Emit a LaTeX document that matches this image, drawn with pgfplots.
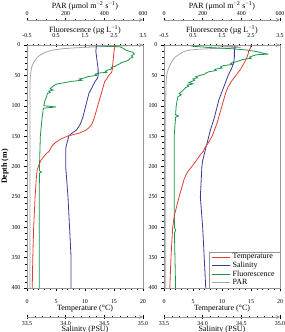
\documentclass[border=0pt]{standalone}
\usepackage{pgfplots}
\pgfplotsset{compat=1.18}
\usepackage{fontspec}
\setmainfont{Liberation Serif}

\definecolor{tempred}{RGB}{224,62,52}
\definecolor{salblue}{RGB}{58,58,150}
\definecolor{fluogreen}{RGB}{22,150,72}
\definecolor{pargray}{RGB}{165,165,165}
\definecolor{framegray}{RGB}{150,150,150}

\newcommand{\titlefont}{\fontsize{8}{9}\selectfont}

\pgfplotsset{
  common/.style={
    scale only axis, width=116bp, anchor=south west,
    /pgf/number format/assume math mode=true,
    tick label style={font=\fontsize{6}{7}\selectfont},
    major tick length=3bp, minor tick length=1.6bp,
    tick style={black, line width=0.35pt},
    axis line style={-, draw=framegray, line width=0.8pt},
    tick align=outside,
  },
  panel/.style={common, height=243bp, ymin=0, ymax=400, y dir=reverse},
  layer/.style={panel, hide axis},
  scalebar/.style={common, height=1bp, ymin=0, ymax=1, hide y axis, tick align=center},
  onedec/.style={xticklabel style={/pgf/number format/fixed, /pgf/number format/fixed zerofill, /pgf/number format/precision=1}},
  toptitle/.style={xlabel style={at={(axis description cs:0.5,1)}, anchor=center, yshift=#1, font=\titlefont}},
  bottitle/.style={xlabel style={at={(axis description cs:0.5,0)}, anchor=center, yshift=#1, font=\titlefont}},
  temp/.style={draw=tempred, line width=0.8pt},
  sal/.style={draw=salblue, line width=0.8pt},
  fluo/.style={draw=fluogreen, line width=0.8pt},
  par/.style={draw=pargray, line width=0.8pt},
}

\begin{document}
\begin{tikzpicture}

% =================== left cast ===================
% PAR
\begin{axis}[layer, at={(27bp,44bp)}, xmin=0, xmax=600]
\addplot[par] coordinates {(600,0) (560,1) (450,2) (360,3) (290,4) (230,5) (190,6) (140,8) (115,10) (95,12) (82,14) (65,17) (54,20) (42,25) (32,30) (26,35) (22,40) (18,50) (16,60) (15,80) (15,400)};
\end{axis}
% Fluorescence (top axis)
\begin{axis}[panel, at={(27bp,44bp)}, xmin=-0.5, xmax=3.5, axis x line=top, hide y axis,
  xtick={-0.5,0.5,1.5,2.5,3.5}, minor x tick num=4, onedec,
  xticklabel style={anchor=center, yshift=7.5bp},
  xlabel={Fluorescence (µg L\textsuperscript{−1})}, toptitle=15.5bp]
\addplot[fluo] coordinates {(1.0,0) (1.6,1) (2.3,2) (2.7,3) (2.8,5) (2.9,8) (3.0,10) (3.15,12) (3.2,15) (3.1,18) (3.15,20) (3.05,22) (3.0,25) (2.9,27) (2.75,29) (2.7,31) (2.6,33) (2.55,35) (2.4,37) (2.45,39) (2.3,41) (2.2,43) (2.25,45) (2.0,46) (1.85,48) (1.9,50) (1.6,52) (1.5,54) (1.3,56) (1.4,58) (1.0,60) (0.8,62) (0.55,64) (0.45,66) (0.4,68) (0.35,70) (0.3,72) (0.4,74) (0.25,76) (0.3,78) (0.2,80) (0.18,85) (0.13,90) (0.1,95) (0.08,100) (0.5,102) (0.06,104) (0.05,110) (0.02,120) (0.0,130) (-0.04,150) (-0.07,200) (-0.07,207) (0.0,209) (-0.07,211) (-0.08,250) (-0.08,300) (-0.08,400)};
\end{axis}
% Salinity
\begin{axis}[layer, at={(27bp,44bp)}, xmin=33.5, xmax=35]
\addplot[sal] coordinates {(34.40,0) (34.39,10) (34.40,20) (34.41,30) (34.42,40) (34.42,50) (34.41,55) (34.38,60) (34.34,70) (34.30,80) (34.28,90) (34.26,100) (34.24,110) (34.22,120) (34.19,130) (34.14,140) (34.08,145) (34.04,150) (34.02,160) (34.00,170) (34.00,200) (34.03,250) (34.05,300) (34.07,350) (34.07,400)};
\end{axis}
% Temperature (main frame)
\begin{axis}[panel, at={(27bp,44bp)}, xmin=0, xmax=20,
  xtick={0,5,10,15,20}, minor x tick num=4, xtick pos=left,
  ytick={0,50,...,400}, minor y tick num=4, ytick pos=left,
  xticklabel style={anchor=center, yshift=-11bp},
  xlabel={Temperature (°C)}, bottitle=-20.5bp,
  ylabel={Depth (m)},
  every axis y label/.style={at={(axis description cs:0,0.5)}, anchor=center, xshift=-22bp, rotate=90, font=\titlefont\bfseries}]
\addplot[temp] coordinates {(15.2,0) (15.1,5) (15.0,10) (14.9,20) (14.8,30) (14.7,40) (14.6,45) (14.1,50) (13.8,55) (13.4,60) (13.1,70) (12.8,80) (12.5,90) (12.2,100) (11.9,110) (11.6,120) (11.2,130) (10.8,135) (10.2,140) (9.0,145) (7.0,150) (5.8,155) (5.0,160) (4.4,165) (4.1,170) (3.8,175) (3.2,180) (2.8,185) (2.4,190) (2.1,196) (1.75,206) (1.6,220) (1.4,250) (1.15,300) (1.0,350) (0.9,400)};
\end{axis}
% separate salinity and PAR scales
\begin{axis}[scalebar, at={(27bp,15bp)}, xmin=33.5, xmax=35, axis x line=bottom,
  xtick={33.5,34,34.5,35}, minor x tick num=4, onedec,
  xticklabel style={anchor=center, yshift=-5bp},
  xlabel={Salinity (PSU)}, bottitle=-13bp]
\end{axis}
\begin{axis}[scalebar, at={(27bp,311bp)}, xmin=0, xmax=600, axis x line=top,
  xtick={0,200,400,600}, minor x tick num=3,
  xticklabel style={anchor=center, yshift=5bp},
  xlabel={PAR (µmol m\textsuperscript{−2} s\textsuperscript{−1})}, toptitle=14bp]
\end{axis}

% =================== right cast ===================
\begin{axis}[layer, at={(164bp,44bp)}, xmin=0, xmax=600]
\addplot[par] coordinates {(110,0) (200,1) (300,2) (380,3) (390,4) (330,5) (240,6) (180,7) (140,8) (110,10) (95,12) (85,14) (70,17) (58,20) (45,25) (36,30) (28,35) (22,40) (17,45) (14,50) (11,60) (10,70) (9,100) (9,400)};
\end{axis}
\begin{axis}[panel, at={(164bp,44bp)}, xmin=-0.5, xmax=3.5, axis x line=top, hide y axis,
  xtick={-0.5,0.5,1.5,2.5,3.5}, minor x tick num=4, onedec,
  xticklabel style={anchor=center, yshift=7.5bp},
  xlabel={Fluorescence (µg L\textsuperscript{−1})}, toptitle=15.5bp]
\addplot[fluo] coordinates {(0.3,0) (0.5,2) (1.0,4) (1.8,6) (2.3,8) (2.6,10) (2.8,12) (2.95,14) (3.1,15) (2.7,16) (2.55,18) (2.45,20) (2.5,22) (2.2,24) (2.1,26) (1.95,28) (1.8,30) (1.85,32) (1.55,34) (1.45,36) (1.5,38) (1.25,40) (1.3,42) (1.05,44) (0.95,46) (0.9,48) (0.75,50) (0.6,52) (0.65,54) (0.5,56) (0.55,58) (0.45,60) (0.35,62) (0.5,64) (0.3,66) (0.35,68) (0.25,70) (0.15,75) (0.02,80) (0.1,82) (-0.02,85) (-0.04,90) (-0.08,100) (-0.1,115) (0.0,117) (-0.1,119) (-0.15,150) (-0.15,200) (-0.15,250) (-0.14,300) (-0.1,305) (-0.14,310) (-0.1,400)};
\end{axis}
\begin{axis}[layer, at={(164bp,44bp)}, xmin=33.5, xmax=35]
\addplot[sal] coordinates {(34.42,0) (34.41,10) (34.41,20) (34.40,30) (34.37,40) (34.33,50) (34.30,60) (34.27,70) (34.24,80) (34.21,90) (34.19,100) (34.15,120) (34.10,140) (34.06,160) (34.03,175) (34.02,180) (34.00,190) (33.99,200) (33.97,250) (34.00,300) (34.02,350) (34.04,400)};
\end{axis}
\begin{axis}[panel, at={(164bp,44bp)}, xmin=0, xmax=20,
  xtick={0,5,10,15,20}, minor x tick num=4, xtick pos=left,
  ytick={0,50,...,400}, minor y tick num=4, ytick pos=left,
  xticklabel style={anchor=center, yshift=-11bp},
  xlabel={Temperature (°C)}, bottitle=-20.5bp]
\addplot[temp] coordinates {(15.0,0) (14.9,5) (14.6,10) (14.5,15) (14.3,20) (13.8,30) (13.2,40) (12.4,50) (11.6,60) (11.0,70) (10.6,80) (10.3,90) (10.0,100) (9.7,110) (9.4,120) (9.1,130) (8.7,140) (8.3,150) (7.7,160) (7.0,170) (6.8,175) (6.3,180) (5.6,190) (5.2,195) (4.8,200) (4.0,210) (3.5,220) (3.2,230) (2.9,240) (2.6,250) (2.2,265) (1.8,280) (1.5,300) (1.2,350) (1.0,400)};
\end{axis}
\begin{axis}[scalebar, at={(164bp,15bp)}, xmin=33.5, xmax=35, axis x line=bottom,
  xtick={33.5,34,34.5,35}, minor x tick num=4, onedec,
  xticklabel style={anchor=center, yshift=-5bp},
  xlabel={Salinity (PSU)}, bottitle=-13bp]
\end{axis}
\begin{axis}[scalebar, at={(164bp,311bp)}, xmin=0, xmax=600, axis x line=top,
  xtick={0,200,400,600}, minor x tick num=3,
  xticklabel style={anchor=center, yshift=5bp},
  xlabel={PAR (µmol m\textsuperscript{−2} s\textsuperscript{−1})}, toptitle=14bp]
\end{axis}
% legend
\begin{axis}[layer, at={(164bp,44bp)}, xmin=0, xmax=1,
  legend style={at={(1,0)}, anchor=south east, draw=framegray, line width=0.5pt,
    font=\fontsize{8}{8}\selectfont, inner xsep=3bp, inner ysep=1bp, row sep=0bp,
    nodes={inner ysep=0.8bp}, cells={anchor=west}},
  legend image code/.code={\draw[#1] (0bp,0bp) -- (18bp,0bp);}]
\addlegendimage{temp}\addlegendentry{Temperature}
\addlegendimage{sal}\addlegendentry{Salinity}
\addlegendimage{fluo}\addlegendentry{Fluorescence}
\addlegendimage{par}\addlegendentry{PAR}
\end{axis}

\pgfresetboundingbox
\useasboundingbox (0,0) rectangle (285bp,332bp);
\end{tikzpicture}
\end{document}
